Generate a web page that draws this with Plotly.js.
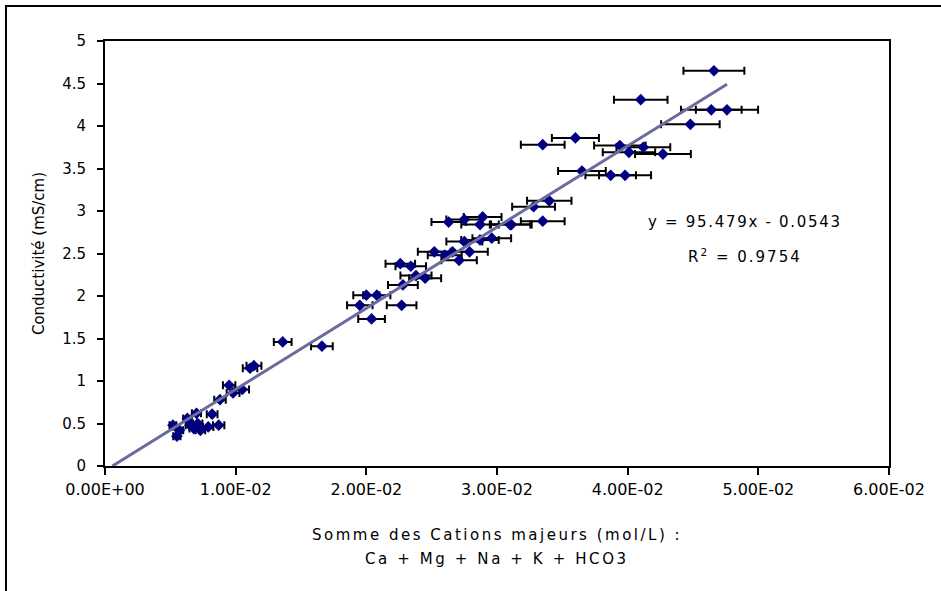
<!DOCTYPE html>
<html>
<head>
<meta charset="utf-8">
<script src="https://cdn.plot.ly/plotly-3.0.1.min.js"></script>
<style>html,body{margin:0;padding:0;background:#fff;}#chart{width:941px;height:591px;}</style>
</head>
<body>
<div id="chart"></div>
<script>
// Somme des cations majeurs (mol/L)
const cations = [
  0.0052, 0.0055, 0.0057, 0.0063, 0.0065, 0.0068, 0.0070, 0.0071, 0.0073, 0.0079,
  0.0082, 0.0087, 0.0088, 0.0095, 0.0098, 0.0105, 0.0111, 0.0114, 0.0136, 0.0166,
  0.0195, 0.0200, 0.0204, 0.0208, 0.0226, 0.0227, 0.0228, 0.0234, 0.0238, 0.0245,
  0.0252, 0.0260, 0.0263, 0.0266, 0.0271, 0.0275, 0.0275, 0.0279, 0.0287, 0.0287,
  0.0289, 0.0296, 0.0310, 0.0311, 0.0328, 0.0335, 0.0335, 0.0340, 0.0360, 0.0365,
  0.0387, 0.0394, 0.0398, 0.0401, 0.0410, 0.0412, 0.0427, 0.0448, 0.0464, 0.0466,
  0.0476
];
// Conductivité (mS/cm)
const conductivite = [
  0.48, 0.35, 0.42, 0.56, 0.48, 0.44, 0.62, 0.50, 0.42, 0.46,
  0.61, 0.48, 0.78, 0.95, 0.86, 0.90, 1.15, 1.18, 1.46, 1.41,
  1.89, 2.01, 1.73, 2.01, 2.38, 1.89, 2.13, 2.35, 2.24, 2.21,
  2.52, 2.48, 2.87, 2.52, 2.42, 2.64, 2.90, 2.52, 2.66, 2.84,
  2.93, 2.68, 2.84, 2.84, 3.05, 3.78, 2.88, 3.12, 3.86, 3.47,
  3.42, 3.77, 3.42, 3.69, 4.31, 3.75, 3.67, 4.02, 4.19, 4.65,
  4.19
];
// Courbe de tendance
const trendX = [0.00057, 0.0476];
const trendY = [0.0, 4.49];
const equationText = "y = 95.479x - 0.0543";
const r2Text = "R<sup>2</sup> = 0.9754";
const xTitleLine1 = "Somme des Cations majeurs (mol/L) :";
const xTitleLine2 = "Ca + Mg + Na + K + HCO3";
const yTitle = "Conductivité (mS/cm)";

const xTickVals = [0, 0.01, 0.02, 0.03, 0.04, 0.05, 0.06];
const xTickText = ["0.00E+00", "1.00E-02", "2.00E-02", "3.00E-02", "4.00E-02", "5.00E-02", "6.00E-02"];
const yTickVals = [0, 0.5, 1, 1.5, 2, 2.5, 3, 3.5, 4, 4.5, 5];
const yTickText = ["0", "0.5", "1", "1.5", "2", "2.5", "3", "3.5", "4", "4.5", "5"];

const FONT = "DejaVu Sans, Verdana, sans-serif";
const spaced = (t, px) => '<span style="letter-spacing:' + px + 'px">' + t + '</span>';

const traces = [
  {
    x: cations, y: conductivite, type: "scatter", mode: "markers",
    marker: {symbol: "diamond", size: 9, color: "#000080"},
    error_x: {type: "percent", value: 5, color: "#000000", thickness: 2, width: 4},
    showlegend: false, hoverinfo: "x+y"
  },
  {
    x: trendX, y: trendY, type: "scatter", mode: "lines",
    line: {color: "#6B6B9E", width: 3},
    showlegend: false, hoverinfo: "skip"
  }
];

const layout = {
  width: 941, height: 591,
  margin: {l: 105, r: 52, t: 41, b: 125},
  paper_bgcolor: "#ffffff", plot_bgcolor: "#ffffff",
  font: {family: FONT, size: 15, color: "#000000"},
  showlegend: false,
  xaxis: {
    range: [0, 0.06], tickmode: "array", tickvals: xTickVals, ticktext: xTickText,
    showgrid: false, zeroline: false, showline: true, linecolor: "#000", linewidth: 2,
    mirror: true, ticks: "outside", ticklen: 7, tickwidth: 2, tickcolor: "#000",
    ticklabelstandoff: 1,
    tickfont: {family: FONT, size: 16}, fixedrange: true
  },
  yaxis: {
    range: [0, 5], tickmode: "array", tickvals: yTickVals, ticktext: yTickText,
    showgrid: false, zeroline: false, showline: true, linecolor: "#000", linewidth: 2,
    mirror: true, ticks: "outside", ticklen: 6, tickwidth: 2, tickcolor: "#000",
    ticklabelstandoff: 8,
    tickfont: {family: FONT, size: 15}, fixedrange: true,
    title: {text: yTitle, font: {family: FONT, size: 15}, standoff: 14}
  },
  annotations: [
    {x: 0.04897, y: 2.875, xref: "x", yref: "y", text: spaced(equationText, 1.7), showarrow: false,
     xanchor: "center", yanchor: "middle", font: {family: FONT, size: 15}},
    {x: 0.04897, y: 2.475, xref: "x", yref: "y", text: spaced(r2Text, 2), showarrow: false,
     xanchor: "center", yanchor: "middle", font: {family: FONT, size: 15}},
    {x: 0.5, y: -0.163, xref: "paper", yref: "paper", text: spaced(xTitleLine1, 2.5),
     showarrow: false, xanchor: "center", yanchor: "middle", font: {family: FONT, size: 15}},
    {x: 0.5, y: -0.219, xref: "paper", yref: "paper", text: spaced(xTitleLine2, 2.6),
     showarrow: false, xanchor: "center", yanchor: "middle", font: {family: FONT, size: 15}}
  ],
  shapes: [
    {type: "rect", xref: "paper", yref: "paper", x0: -0.1263, x1: 1.08, y0: -0.33, y1: 1.0824,
     line: {color: "#000", width: 2}, fillcolor: "rgba(0,0,0,0)", layer: "below"}
  ]
};

Plotly.newPlot("chart", traces, layout, {displayModeBar: false, staticPlot: true});
</script>
</body>
</html>
